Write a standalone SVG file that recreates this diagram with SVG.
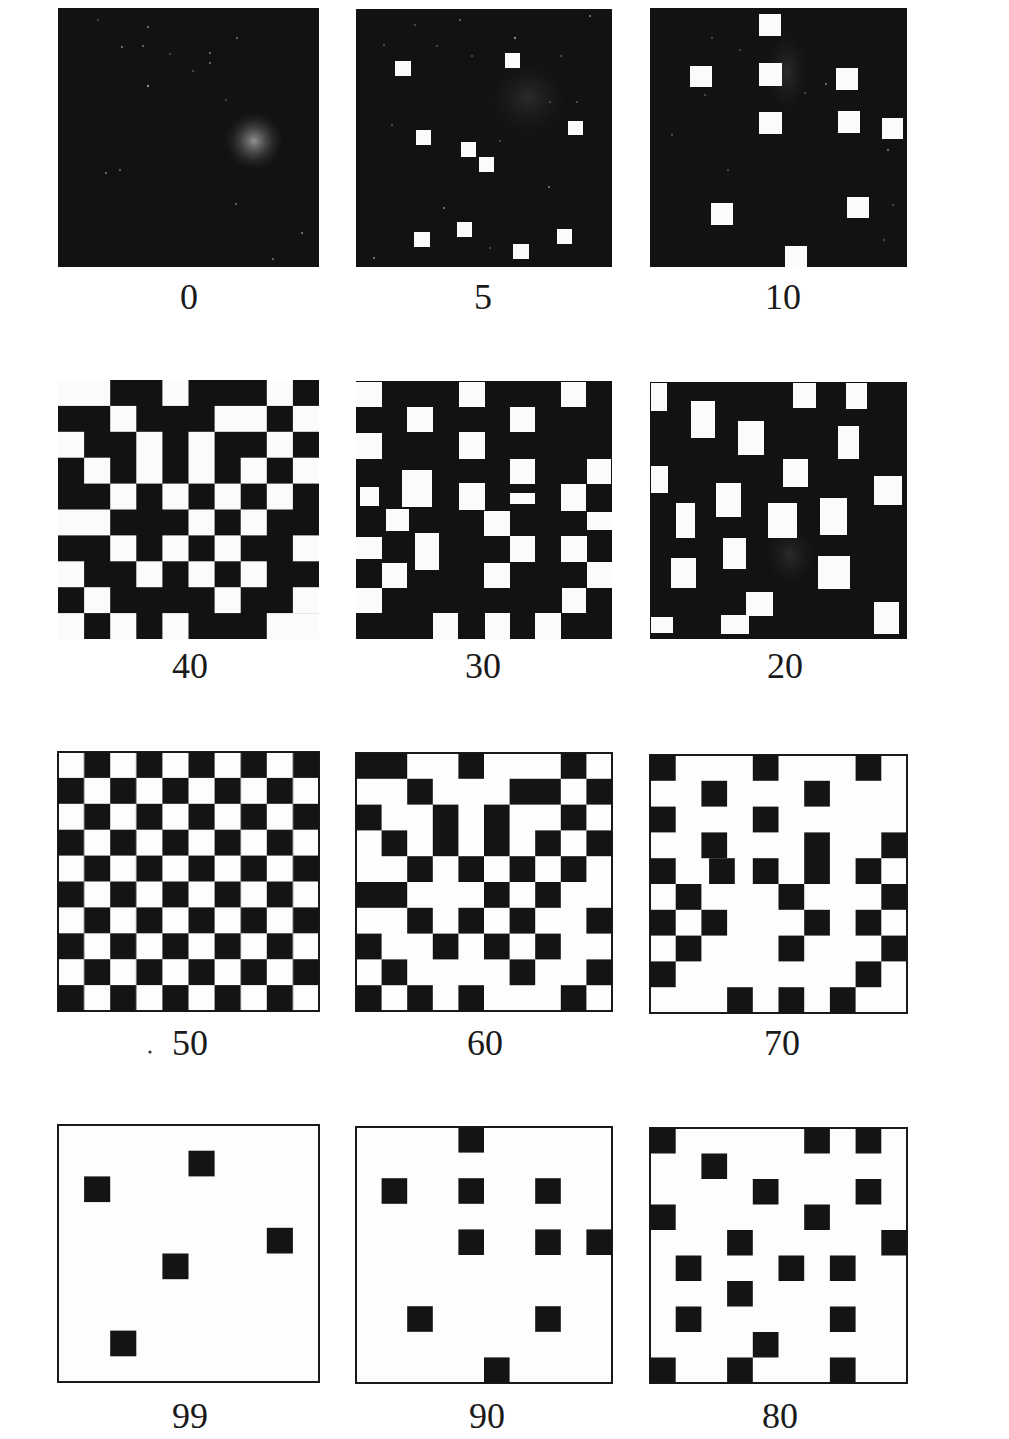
<svg xmlns="http://www.w3.org/2000/svg" width="1009" height="1439" viewBox="0 0 1009 1439">
<style>
.dk{fill:#121212}
.wt{fill:#fbfbfb}
.bk{fill:#141414}
.fr{fill:#fdfdfd;stroke:#1a1a1a;stroke-width:2}
.sp{fill:#8a8a8a}
.lb{font-family:"Liberation Serif","Times New Roman",serif;font-size:36px;fill:#1a1a1a;text-anchor:middle}
</style>
<defs>
<radialGradient id="glow">
<stop offset="0" stop-color="#c8c8c8" stop-opacity="0.7"/>
<stop offset="0.5" stop-color="#909090" stop-opacity="0.3"/>
<stop offset="1" stop-color="#333" stop-opacity="0"/>
</radialGradient>
<radialGradient id="glow2">
<stop offset="0" stop-color="#777" stop-opacity="0.25"/>
<stop offset="1" stop-color="#333" stop-opacity="0"/>
</radialGradient>
<pattern id="chk" patternUnits="userSpaceOnUse" width="20" height="20">
<rect x="10" y="0" width="10" height="10" fill="#141414"/>
<rect x="0" y="10" width="10" height="10" fill="#141414"/>
</pattern>
</defs>
<rect width="1009" height="1439" fill="#ffffff"/>

<g id="panel-0">
<rect class="dk" x="58" y="8" width="261" height="259"/>
<ellipse cx="254" cy="141" rx="30" ry="30" fill="url(#glow)"/>
<g class="sp">
<circle cx="148" cy="27" r="1"/><circle cx="122" cy="47" r="1"/><circle cx="148" cy="86" r="1.2"/><circle cx="143" cy="46" r="0.9"/>
<circle cx="210" cy="53" r="0.9"/><circle cx="210" cy="63" r="0.9"/><circle cx="237" cy="38" r="0.9"/><circle cx="170" cy="54" r="0.8"/>
<circle cx="106" cy="173" r="0.9"/><circle cx="120" cy="170" r="0.9"/><circle cx="236" cy="204" r="0.9"/><circle cx="302" cy="233" r="1"/>
<circle cx="273" cy="259" r="0.9"/><circle cx="193" cy="71" r="0.8"/><circle cx="226" cy="100" r="0.8"/><circle cx="98" cy="20" r="0.8"/>
</g>
</g>

<g id="panel-5">
<rect class="dk" x="356" y="9" width="256" height="258"/>
<ellipse cx="528" cy="98" rx="40" ry="38" fill="url(#glow2)"/>
<g class="sp">
<circle cx="460" cy="20" r="0.9"/><circle cx="590" cy="16" r="1"/><circle cx="415" cy="25" r="0.8"/><circle cx="515" cy="38" r="1.2"/>
<circle cx="437" cy="46" r="0.8"/><circle cx="472" cy="56" r="0.8"/><circle cx="561" cy="56" r="0.8"/><circle cx="384" cy="45" r="0.8"/>
<circle cx="550" cy="102" r="0.8"/><circle cx="577" cy="102" r="0.8"/><circle cx="392" cy="125" r="0.8"/><circle cx="500" cy="141" r="0.8"/>
<circle cx="549" cy="187" r="1"/><circle cx="444" cy="208" r="1"/><circle cx="374" cy="258" r="1"/><circle cx="490" cy="248" r="0.8"/>
</g>
<rect class="wt" x="395" y="61" width="16" height="15"/>
<rect class="wt" x="505" y="53" width="15" height="15"/>
<rect class="wt" x="568" y="121" width="15" height="14"/>
<rect class="wt" x="416" y="130" width="15" height="15"/>
<rect class="wt" x="461" y="142" width="15" height="15"/>
<rect class="wt" x="479" y="157" width="15" height="15"/>
<rect class="wt" x="457" y="222" width="15" height="15"/>
<rect class="wt" x="414" y="232" width="16" height="15"/>
<rect class="wt" x="557" y="229" width="15" height="15"/>
<rect class="wt" x="513" y="244" width="16" height="15"/>
</g>

<g id="panel-10">
<rect class="dk" x="650" y="8" width="257" height="259"/>
<ellipse cx="787" cy="72" rx="22" ry="42" fill="url(#glow2)"/>
<g class="sp">
<circle cx="712" cy="38" r="0.8"/><circle cx="740" cy="50" r="0.8"/><circle cx="826" cy="84" r="1"/><circle cx="805" cy="93" r="0.8"/>
<circle cx="705" cy="95" r="0.8"/><circle cx="888" cy="150" r="1"/><circle cx="893" cy="205" r="0.8"/><circle cx="728" cy="170" r="0.8"/>
<circle cx="884" cy="240" r="0.8"/><circle cx="672" cy="135" r="0.8"/>
</g>
<rect class="wt" x="759" y="14" width="22" height="22"/>
<rect class="wt" x="690" y="66" width="22" height="21"/>
<rect class="wt" x="759" y="63" width="23" height="23"/>
<rect class="wt" x="836" y="68" width="22" height="22"/>
<rect class="wt" x="759" y="112" width="23" height="22"/>
<rect class="wt" x="838" y="111" width="22" height="22"/>
<rect class="wt" x="882" y="118" width="21" height="21"/>
<rect class="wt" x="711" y="203" width="22" height="22"/>
<rect class="wt" x="847" y="197" width="22" height="21"/>
<rect class="wt" x="785" y="246" width="22" height="21"/>
</g>

<g id="panel-40">
<rect class="dk" x="58" y="380" width="261" height="259"/>
<g class="wt" transform="translate(58,380) scale(2.61,2.59)">
<rect x="0" y="0" width="20" height="10"/><rect x="40" y="0" width="10" height="10"/><rect x="80" y="0" width="10" height="10"/>
<rect x="20" y="10" width="10" height="10"/><rect x="60" y="10" width="20" height="10"/><rect x="90" y="10" width="10" height="10"/>
<rect x="0" y="20" width="10" height="10"/><rect x="30" y="20" width="10" height="20"/><rect x="50" y="20" width="10" height="20"/><rect x="80" y="20" width="10" height="10"/>
<rect x="10" y="30" width="10" height="10"/><rect x="70" y="30" width="10" height="10"/><rect x="90" y="30" width="10" height="10"/>
<rect x="20" y="40" width="10" height="10"/><rect x="40" y="40" width="10" height="10"/><rect x="60" y="40" width="10" height="10"/><rect x="80" y="40" width="10" height="10"/>
<rect x="0" y="50" width="20" height="10"/><rect x="50" y="50" width="10" height="10"/><rect x="70" y="50" width="10" height="10"/>
<rect x="20" y="60" width="10" height="10"/><rect x="40" y="60" width="10" height="10"/><rect x="60" y="60" width="10" height="10"/><rect x="90" y="60" width="10" height="10"/>
<rect x="0" y="70" width="10" height="10"/><rect x="30" y="70" width="10" height="10"/><rect x="50" y="70" width="10" height="10"/><rect x="70" y="70" width="10" height="10"/>
<rect x="10" y="80" width="10" height="10"/><rect x="60" y="80" width="10" height="10"/><rect x="90" y="80" width="10" height="10"/>
<rect x="0" y="90" width="10" height="10"/><rect x="20" y="90" width="10" height="10"/><rect x="40" y="90" width="10" height="10"/><rect x="80" y="90" width="20" height="10"/>
</g>
</g>

<g id="panel-30">
<rect class="dk" x="356" y="381" width="256" height="258"/>
<g class="wt">
<rect x="356" y="382" width="26" height="25"/><rect x="459" y="382" width="26" height="25"/><rect x="561" y="382" width="25" height="25"/>
<rect x="407" y="407" width="26" height="25"/><rect x="510" y="407" width="25" height="25"/>
<rect x="356" y="433" width="26" height="26"/><rect x="459" y="432" width="26" height="27"/>
<rect x="510" y="459" width="25" height="25"/><rect x="587" y="459" width="24" height="25"/>
<rect x="402" y="470" width="30" height="37"/><rect x="360" y="487" width="19" height="19"/>
<rect x="459" y="483" width="26" height="27"/><rect x="510" y="493" width="25" height="11"/><rect x="561" y="484" width="25" height="27"/>
<rect x="386" y="509" width="23" height="22"/><rect x="484" y="511" width="26" height="25"/><rect x="587" y="512" width="25" height="18"/>
<rect x="356" y="537" width="26" height="22"/><rect x="415" y="533" width="24" height="37"/>
<rect x="510" y="536" width="25" height="26"/><rect x="561" y="536" width="26" height="26"/>
<rect x="382" y="563" width="25" height="25"/><rect x="484" y="563" width="26" height="25"/><rect x="587" y="562" width="25" height="26"/>
<rect x="356" y="588" width="26" height="25"/><rect x="562" y="588" width="24" height="25"/>
<rect x="433" y="613" width="25" height="26"/><rect x="485" y="613" width="25" height="26"/><rect x="535" y="613" width="26" height="26"/>
</g>
</g>

<g id="panel-20">
<rect class="dk" x="650" y="382" width="257" height="257"/>
<ellipse cx="790" cy="555" rx="25" ry="30" fill="url(#glow2)"/>
<g class="wt">
<rect x="651" y="383" width="16" height="28"/><rect x="793" y="383" width="23" height="25"/><rect x="846" y="383" width="21" height="26"/>
<rect x="691" y="401" width="24" height="37"/><rect x="738" y="421" width="26" height="34"/><rect x="838" y="426" width="21" height="33"/>
<rect x="651" y="466" width="17" height="27"/><rect x="783" y="459" width="25" height="28"/><rect x="874" y="476" width="28" height="29"/>
<rect x="716" y="483" width="25" height="34"/><rect x="676" y="503" width="19" height="35"/><rect x="768" y="503" width="29" height="35"/>
<rect x="820" y="498" width="27" height="37"/><rect x="723" y="538" width="23" height="31"/><rect x="671" y="558" width="25" height="30"/>
<rect x="818" y="556" width="32" height="33"/><rect x="746" y="592" width="27" height="24"/><rect x="651" y="617" width="22" height="16"/>
<rect x="721" y="615" width="28" height="19"/><rect x="874" y="602" width="25" height="32"/>
</g>
</g>

<g id="panel-50">
<rect class="fr" x="58" y="752" width="261" height="259"/>
<rect x="0" y="0" width="100" height="100" fill="url(#chk)" transform="translate(58,752) scale(2.61,2.59)"/>
</g>

<g id="panel-60">
<rect class="fr" x="356" y="753" width="256" height="258"/>
<g class="bk" transform="translate(356,753) scale(2.56,2.58)">
<rect x="0" y="0" width="20" height="10"/><rect x="40" y="0" width="10" height="10"/><rect x="80" y="0" width="10" height="10"/>
<rect x="20" y="10" width="10" height="10"/><rect x="60" y="10" width="20" height="10"/><rect x="90" y="10" width="10" height="10"/>
<rect x="0" y="20" width="10" height="10"/><rect x="30" y="20" width="10" height="20"/><rect x="50" y="20" width="10" height="20"/><rect x="80" y="20" width="10" height="10"/>
<rect x="10" y="30" width="10" height="10"/><rect x="70" y="30" width="10" height="10"/><rect x="90" y="30" width="10" height="10"/>
<rect x="20" y="40" width="10" height="10"/><rect x="40" y="40" width="10" height="10"/><rect x="60" y="40" width="10" height="10"/><rect x="80" y="40" width="10" height="10"/>
<rect x="0" y="50" width="20" height="10"/><rect x="50" y="50" width="10" height="10"/><rect x="70" y="50" width="10" height="10"/>
<rect x="20" y="60" width="10" height="10"/><rect x="40" y="60" width="10" height="10"/><rect x="60" y="60" width="10" height="10"/><rect x="90" y="60" width="10" height="10"/>
<rect x="0" y="70" width="10" height="10"/><rect x="30" y="70" width="10" height="10"/><rect x="50" y="70" width="10" height="10"/><rect x="70" y="70" width="10" height="10"/>
<rect x="10" y="80" width="10" height="10"/><rect x="60" y="80" width="10" height="10"/><rect x="90" y="80" width="10" height="10"/>
<rect x="0" y="90" width="10" height="10"/><rect x="20" y="90" width="10" height="10"/><rect x="40" y="90" width="10" height="10"/><rect x="80" y="90" width="10" height="10"/>
</g>
</g>

<g id="panel-70">
<rect class="fr" x="650" y="755" width="257" height="258"/>
<g class="bk" transform="translate(650,755) scale(2.57,2.58)">
<rect x="0" y="0" width="10" height="10"/><rect x="40" y="0" width="10" height="10"/><rect x="80" y="0" width="10" height="10"/>
<rect x="20" y="10" width="10" height="10"/><rect x="60" y="10" width="10" height="10"/>
<rect x="0" y="20" width="10" height="10"/><rect x="40" y="20" width="10" height="10"/>
<rect x="20" y="30" width="10" height="10"/><rect x="60" y="30" width="10" height="20"/><rect x="90" y="30" width="10" height="10"/>
<rect x="0" y="40" width="10" height="10"/><rect x="23" y="40" width="10" height="10"/><rect x="40" y="40" width="10" height="10"/><rect x="80" y="40" width="10" height="10"/>
<rect x="10" y="50" width="10" height="10"/><rect x="50" y="50" width="10" height="10"/><rect x="90" y="50" width="10" height="10"/>
<rect x="0" y="60" width="10" height="10"/><rect x="20" y="60" width="10" height="10"/><rect x="60" y="60" width="10" height="10"/><rect x="80" y="60" width="10" height="10"/>
<rect x="10" y="70" width="10" height="10"/><rect x="50" y="70" width="10" height="10"/><rect x="90" y="70" width="10" height="10"/>
<rect x="0" y="80" width="10" height="10"/><rect x="80" y="80" width="10" height="10"/>
<rect x="30" y="90" width="10" height="10"/><rect x="50" y="90" width="10" height="10"/><rect x="70" y="90" width="10" height="10"/>
</g>
</g>

<g id="panel-99">
<rect class="fr" x="58" y="1125" width="261" height="257"/>
<g class="bk" transform="translate(58,1125) scale(2.61,2.57)">
<rect x="50" y="10" width="10" height="10"/><rect x="10" y="20" width="10" height="10"/><rect x="80" y="40" width="10" height="10"/>
<rect x="40" y="50" width="10" height="10"/><rect x="20" y="80" width="10" height="10"/>
</g>
</g>

<g id="panel-90">
<rect class="fr" x="356" y="1127" width="256" height="256"/>
<g class="bk" transform="translate(356,1127) scale(2.56,2.56)">
<rect x="40" y="0" width="10" height="10"/>
<rect x="10" y="20" width="10" height="10"/><rect x="40" y="20" width="10" height="10"/><rect x="70" y="20" width="10" height="10"/>
<rect x="40" y="40" width="10" height="10"/><rect x="70" y="40" width="10" height="10"/><rect x="90" y="40" width="10" height="10"/>
<rect x="20" y="70" width="10" height="10"/><rect x="70" y="70" width="10" height="10"/>
<rect x="50" y="90" width="10" height="10"/>
</g>
</g>

<g id="panel-80">
<rect class="fr" x="650" y="1128" width="257" height="255"/>
<g class="bk" transform="translate(650,1128) scale(2.57,2.55)">
<rect x="0" y="0" width="10" height="10"/><rect x="60" y="0" width="10" height="10"/><rect x="80" y="0" width="10" height="10"/>
<rect x="20" y="10" width="10" height="10"/>
<rect x="40" y="20" width="10" height="10"/><rect x="80" y="20" width="10" height="10"/>
<rect x="0" y="30" width="10" height="10"/><rect x="60" y="30" width="10" height="10"/>
<rect x="30" y="40" width="10" height="10"/><rect x="90" y="40" width="10" height="10"/>
<rect x="10" y="50" width="10" height="10"/><rect x="50" y="50" width="10" height="10"/><rect x="70" y="50" width="10" height="10"/>
<rect x="30" y="60" width="10" height="10"/>
<rect x="10" y="70" width="10" height="10"/><rect x="70" y="70" width="10" height="10"/>
<rect x="40" y="80" width="10" height="10"/>
<rect x="0" y="90" width="10" height="10"/><rect x="30" y="90" width="10" height="10"/><rect x="70" y="90" width="10" height="10"/>
</g>
</g>

<g id="labels">
<text class="lb" x="189" y="309">0</text>
<text class="lb" x="483" y="309">5</text>
<text class="lb" x="783" y="309">10</text>
<text class="lb" x="190" y="678">40</text>
<text class="lb" x="483" y="678">30</text>
<text class="lb" x="785" y="678">20</text>
<circle cx="150" cy="1052" r="1.6" fill="#333"/>
<text class="lb" x="190" y="1055">50</text>
<text class="lb" x="485" y="1055">60</text>
<text class="lb" x="782" y="1055">70</text>
<text class="lb" x="190" y="1428">99</text>
<text class="lb" x="487" y="1428">90</text>
<text class="lb" x="780" y="1428">80</text>
</g>
</svg>
